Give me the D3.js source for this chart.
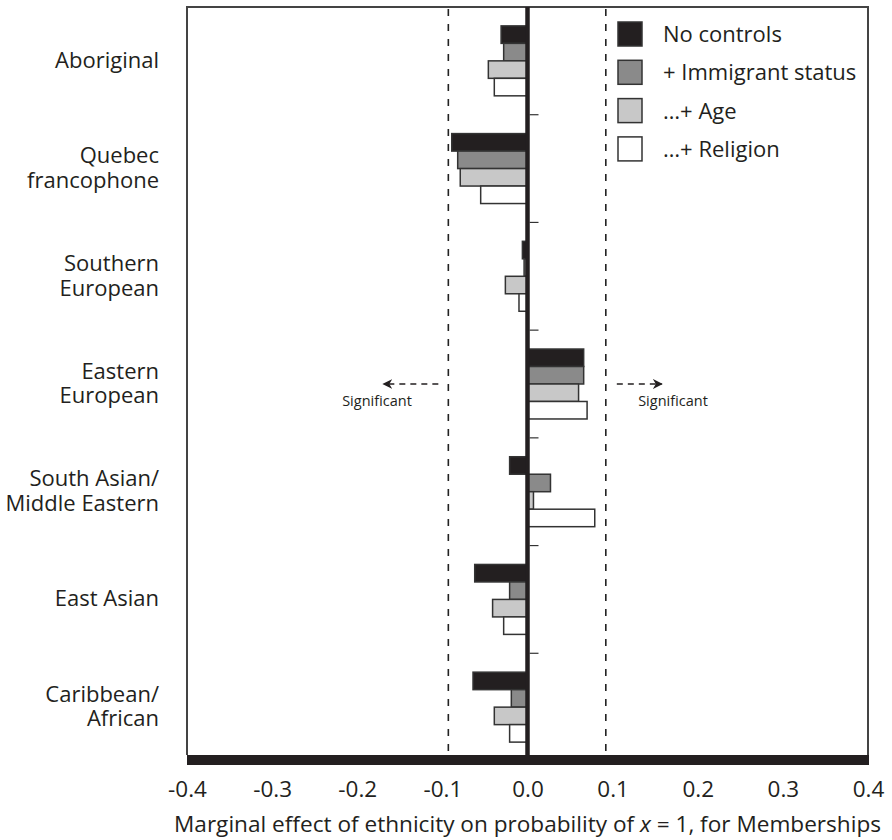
<!DOCTYPE html>
<html>
<head>
<meta charset="utf-8">
<script src="https://cdn.jsdelivr.net/npm/d3@7"></script>
<style>
	body { margin: 0; background: #fff; }
	svg { display: block; font-family: 'Open Sans', Lato, sans-serif; }
</style>
</head>
<body>
<div id="chart"></div>
<script>

// === Data === //

var categories = ['Aboriginal', 'Quebec francophone', 'Southern European', 'Eastern European', 'South Asian/Middle Eastern', 'East Asian', 'Caribbean/African'];
var categoryLines = [['Aboriginal'], ['Quebec', 'francophone'], ['Southern', 'European'], ['Eastern', 'European'], ['South Asian/', 'Middle Eastern'], ['East Asian'], ['Caribbean/', 'African']];

var series = ['No controls', '+ Immigrant status', '\u2026+ Age', '\u2026+ Religion'];
var colours = ['#231f20', '#8a8a8a', '#c8c8c8', '#ffffff'];

var noControls = [-0.031, -0.089, -0.006, 0.066, -0.021, -0.062, -0.064];
var immigrant = [-0.028, -0.082, -0.004, 0.066, 0.027, -0.021, -0.019];
var age = [-0.046, -0.079, -0.026, 0.060, 0.007, -0.041, -0.039];
var religion = [-0.039, -0.055, -0.010, 0.070, 0.079, -0.028, -0.021];

var xTicks = [-0.4, -0.3, -0.2, -0.1, 0.0, 0.1, 0.2, 0.3, 0.4];
var sigBounds = [-0.093, 0.092];


// === Globals === //

var width = 892, height = 840;
var plotLeft = 187, plotRight = 868, plotTop = 7, plotBottom = 761, barTop = 755;

var svg = d3.select('#chart').append('svg').attr('width', width).attr('height', height);

var x = d3.scaleLinear().domain([-0.4, 0.4]).range([plotLeft, plotRight]);
var y = d3.scaleBand().domain(categories).range([plotTop, plotBottom]);
var ySub = d3.scaleBand().domain(series).range([0, y.bandwidth()]).paddingOuter(1.08);

var values = [noControls, immigrant, age, religion];
var bars = [];
categories.forEach(function(c, i) {
	series.forEach(function(s, j) {
		bars.push({ cat: c, series: s, value: values[j][i], colour: colours[j] });
	});
}); // flatten for the data join


// === Frame === //

svg.append('path')
	.attr('d', 'M' + plotLeft + ',' + barTop + 'V' + plotTop + 'H' + plotRight + 'V' + barTop)
	.attr('fill', 'none')
	.attr('stroke', '#444')
	.attr('stroke-width', 2);

// significance lines
svg.selectAll('line.sig')
	.data(sigBounds)
	.enter().append('line')
	.attr('class', 'sig')
	.attr('x1', function(d) { return x(d); })
	.attr('x2', function(d) { return x(d); })
	.attr('y1', plotTop + 2)
	.attr('y2', barTop)
	.attr('stroke', '#222')
	.attr('stroke-width', 1.6)
	.attr('stroke-dasharray', '7,8');


// === Bars === //

svg.selectAll('rect.bar')
	.data(bars)
	.enter().append('rect')
	.attr('class', 'bar')
	.attr('x', function(d) { return x(Math.min(0, d.value)); })
	.attr('y', function(d) { return y(d.cat) + ySub(d.series); })
	.attr('width', function(d) { return Math.abs(x(d.value) - x(0)); })
	.attr('height', ySub.bandwidth())
	.attr('fill', function(d) { return d.colour; })
	.attr('stroke', '#333')
	.attr('stroke-width', 1.5);

// zero line and category ticks
svg.append('line')
	.attr('x1', x(0)).attr('x2', x(0))
	.attr('y1', plotTop).attr('y2', barTop)
	.attr('stroke', '#231f20')
	.attr('stroke-width', 4.5);

svg.selectAll('line.cattick')
	.data(categories.slice(1))
	.enter().append('line')
	.attr('class', 'cattick')
	.attr('x1', x(0) + 2)
	.attr('x2', x(0) + 11)
	.attr('y1', function(d) { return y(d); })
	.attr('y2', function(d) { return y(d); })
	.attr('stroke', '#333')
	.attr('stroke-width', 1.2);


// === Category labels === //

var labels = svg.selectAll('text.cat')
	.data(categories)
	.enter().append('text')
	.attr('class', 'cat')
	.attr('text-anchor', 'end')
	.attr('font-size', 22)
	.attr('fill', '#231f20');

labels.each(function(d, i) {
	var lines = categoryLines[i];
	var cy = y(d) + y.bandwidth() / 2;
	var lh = 24.5;
	var first = cy - (lines.length - 1) * lh / 2 + 7;
	d3.select(this).selectAll('tspan')
		.data(lines)
		.enter().append('tspan')
		.attr('x', 159)
		.attr('y', function(l, k) { return first + k * lh; })
		.text(function(l) { return l; });
});


// === Axis === //

svg.append('rect')
	.attr('x', plotLeft)
	.attr('y', barTop)
	.attr('width', plotRight - plotLeft + 1)
	.attr('height', 10)
	.attr('fill', '#231f20');

var axis = svg.append('g')
	.attr('transform', 'translate(0,' + (barTop + 10) + ')')
	.call(d3.axisBottom(x).tickValues(xTicks).tickSize(0).tickPadding(16)
		.tickFormat(function(d) { return d.toFixed(1); }));

axis.select('.domain').remove();
axis.selectAll('text')
	.attr('font-size', 22.5)
	.attr('font-family', "'Open Sans', sans-serif")
	.attr('fill', '#231f20');

var title = svg.append('text')
	.attr('x', x(0))
	.attr('y', 832)
	.attr('text-anchor', 'middle')
	.attr('font-size', 22.6)
	.attr('fill', '#231f20');
title.append('tspan').text('Marginal effect of ethnicity on probability of ');
title.append('tspan').attr('font-style', 'italic').text('x');
title.append('tspan').text(' = 1, for Memberships');


// === Significant arrows === //

var midY = (plotTop + plotBottom) / 2;
var arrows = [
	{ from: x(sigBounds[0]) - 10, to: x(sigBounds[0]) - 65, label: 377 },
	{ from: x(sigBounds[1]) + 11, to: x(sigBounds[1]) + 56, label: 673 }
];

svg.append('defs').append('marker')
	.attr('id', 'head')
	.attr('viewBox', '0 0 10 10')
	.attr('refX', 9).attr('refY', 5)
	.attr('markerWidth', 10).attr('markerHeight', 10)
	.attr('markerUnits', 'userSpaceOnUse')
	.attr('orient', 'auto')
	.append('path')
	.attr('d', 'M0,0L10,5L0,10L3,5Z')
	.attr('fill', '#231f20');

svg.selectAll('line.arrow')
	.data(arrows)
	.enter().append('line')
	.attr('class', 'arrow')
	.attr('x1', function(d) { return d.from; })
	.attr('x2', function(d) { return d.to; })
	.attr('y1', midY).attr('y2', midY)
	.attr('stroke', '#231f20')
	.attr('stroke-width', 1.3)
	.attr('stroke-dasharray', '6,5')
	.attr('marker-end', 'url(#head)');

svg.selectAll('text.sig')
	.data(arrows)
	.enter().append('text')
	.attr('class', 'sig')
	.attr('x', function(d) { return d.label; })
	.attr('y', midY + 22)
	.attr('text-anchor', 'middle')
	.attr('font-size', 14.5)
	.attr('fill', '#231f20')
	.text('Significant');


// === Legend === //

var legend = svg.selectAll('g.legend')
	.data(series)
	.enter().append('g')
	.attr('class', 'legend')
	.attr('transform', function(d, i) { return 'translate(618,' + (22 + i * 38.3) + ')'; });

legend.append('rect')
	.attr('width', 24).attr('height', 24)
	.attr('fill', function(d, i) { return colours[i]; })
	.attr('stroke', '#333')
	.attr('stroke-width', 1.5);

legend.append('text')
	.attr('x', 45)
	.attr('y', 20)
	.attr('font-size', 22)
	.attr('fill', '#231f20')
	.text(function(d) { return d; });

</script>
</body>
</html>
